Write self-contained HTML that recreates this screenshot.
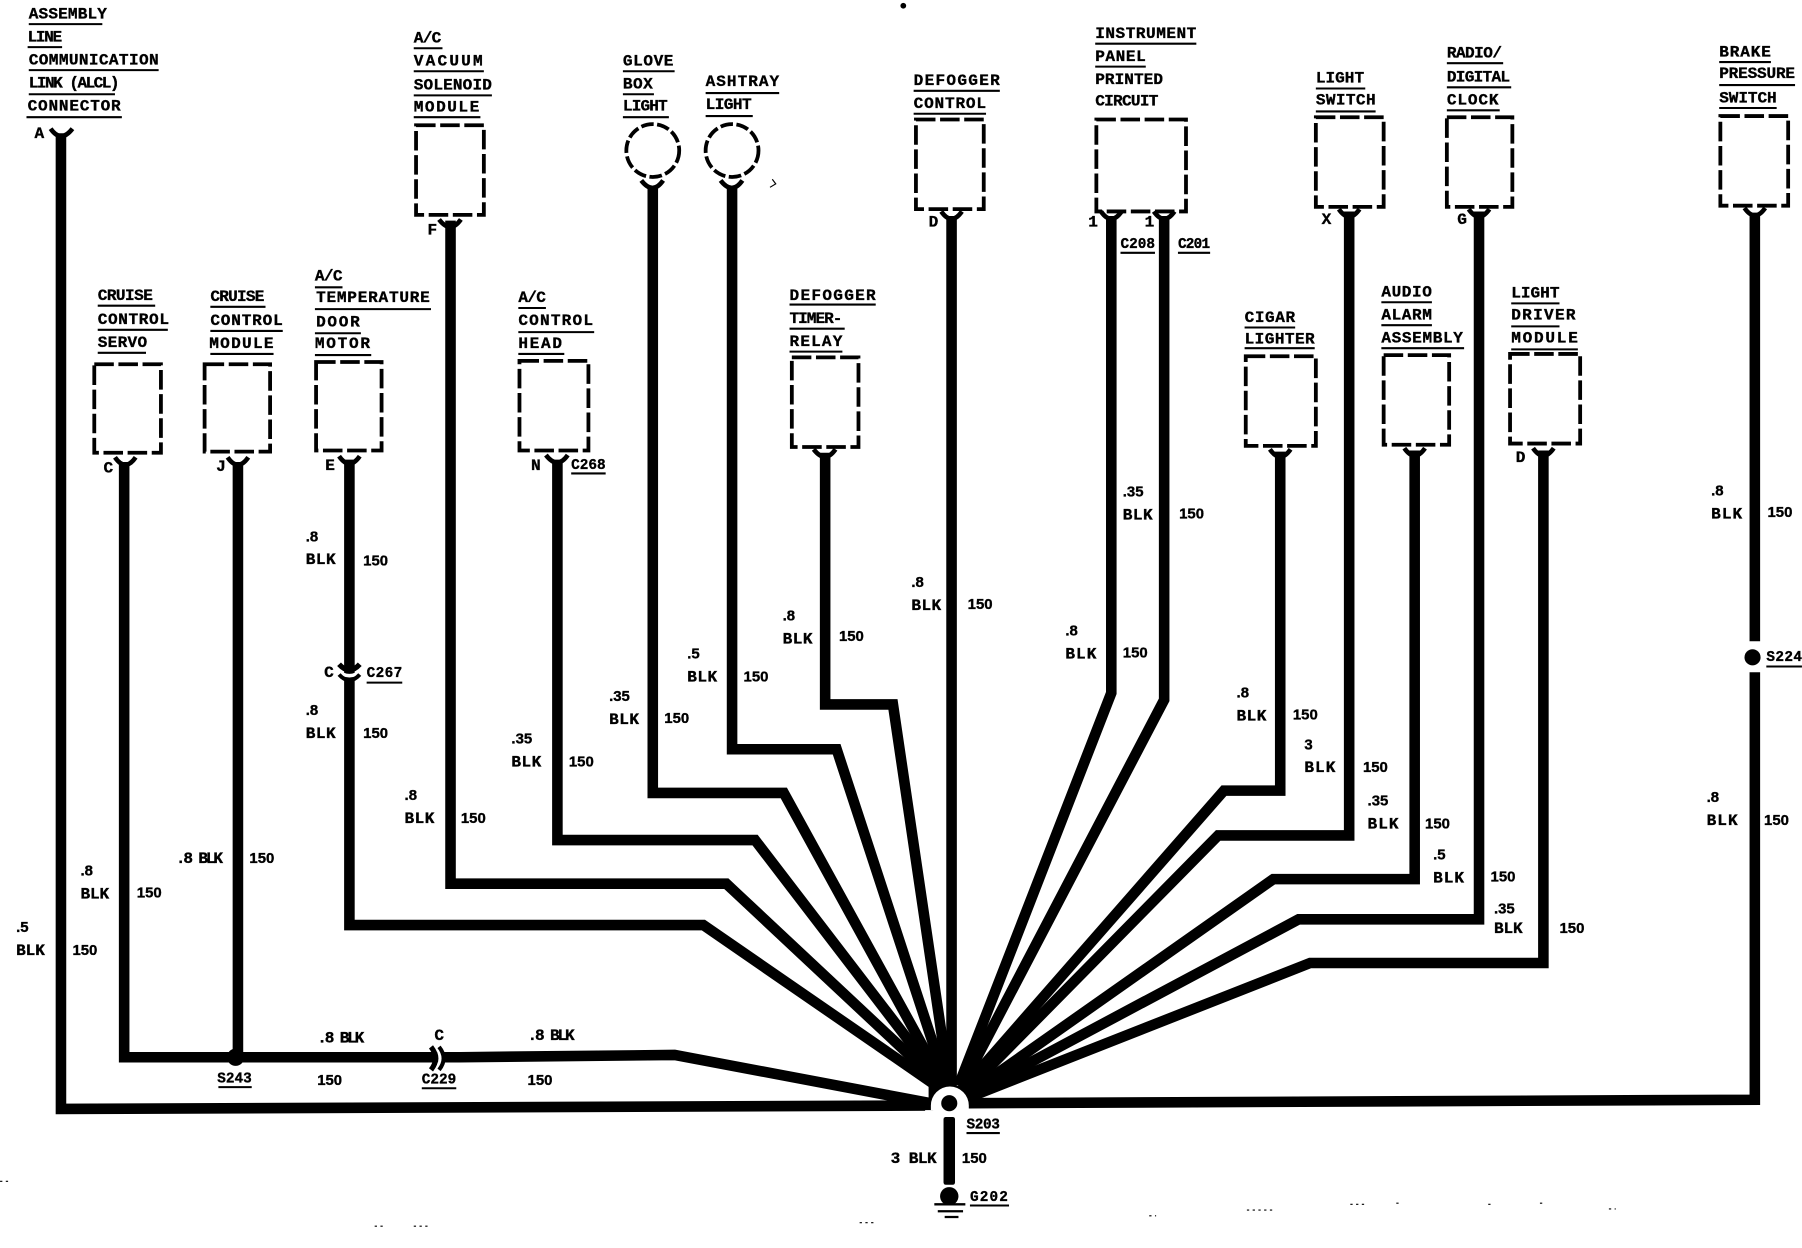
<!DOCTYPE html>
<html>
<head>
<meta charset="utf-8">
<style>
html,body{margin:0;padding:0;background:#fff;}
svg{display:block;}
text{font-family:"Liberation Mono",monospace;font-weight:bold;font-size:14px;fill:#000;stroke:#000;stroke-width:.3px;transform:translateY(-1px);}
text.n{font-family:"Liberation Sans",sans-serif;font-size:13px;}
text.c{font-size:12.5px;}
</style>
</head>
<body>
<svg width="1802" height="1248" viewBox="0 0 1568 1086" xmlns="http://www.w3.org/2000/svg">
<rect width="1568" height="1086" fill="#fff"/>

<!-- wires -->
<g fill="none" stroke="#000" stroke-width="9.2" stroke-linejoin="miter">
<path d="M53 116V965L812 962"/>
<path d="M1527 185V558M1527 585V957L842 960"/>
<path d="M108 402V920H400L587 918L815 961"/>
<path d="M207 402V920"/>
<path d="M304 400V805H612L815 945"/>
<path d="M392 192V769H632L820 945"/>
<path d="M485 400V731H657L821 945"/>
<path d="M568 162V690H682L822 945"/>
<path d="M637 162V652H728L824 945"/>
<path d="M718 394V613H777L826 945"/>
<path d="M828 188V945"/>
<path d="M967 188V603L834 945"/>
<path d="M1013 188V609L837 945"/>
<path d="M1114 393V688H1065L840 945"/>
<path d="M1174 184V727H1060L842 948"/>
<path d="M1231 392V765H1108L845 950"/>
<path d="M1287 184V800H1130L845 952"/>
<path d="M1343 392V838H1140L843 955"/>
</g>

<!-- fan hub fill -->
<path d="M808 945L848 945L850 964L808 966Z" fill="#000"/>

<!-- S203 -->
<path d="M810 966V962A16 16 0 0 1 843 962V966Z" fill="#fff"/>
<rect x="805" y="966" width="45" height="8" fill="#fff"/>
<circle cx="826" cy="960" r="7"/>
<rect x="821" y="972" width="10" height="59" rx="2"/>

<!-- ground G202 -->
<circle cx="826" cy="1041" r="8"/>
<path d="M813 1048H840M816 1054H838M822 1059H834" stroke="#000" stroke-width="2" fill="none"/>

<!-- splice dots -->
<circle cx="205" cy="920" r="7.5"/>
<circle cx="1525" cy="572" r="7"/>

<!-- Connector C229 -->
<path d="M375 911Q383 921 375 931" fill="none" stroke="#000" stroke-width="4.5"/>
<path d="M379 910Q387 921 379 932" fill="none" stroke="#fff" stroke-width="3"/>
<path d="M382 911Q390 921 382 931" fill="none" stroke="#000" stroke-width="3.5"/>
<!-- Connector C267 -->
<path d="M295 578Q304 588 313 578" fill="none" stroke="#000" stroke-width="4.5"/>
<path d="M293 583Q304 593 315 583" fill="none" stroke="#fff" stroke-width="3"/>
<path d="M295 587Q304 597 313 587" fill="none" stroke="#000" stroke-width="3.5"/>

<!-- forks -->
<g fill="none" stroke="#000" stroke-width="4">
<path d="M44 112Q53 125 63 112"/>
<path d="M100 398Q109 411 118 398"/>
<path d="M198 398Q207 411 216 398"/>
<path d="M295 397Q304 410 313 397"/>
<path d="M382 191Q392 204 401 191"/>
<path d="M475 396Q485 409 494 396"/>
<path d="M558 157Q568 170 577 157"/>
<path d="M627 157Q637 170 646 157"/>
<path d="M708 391Q718 404 727 391"/>
<path d="M819 184Q828 197 837 184"/>
<path d="M958 184Q967 197 976 184"/>
<path d="M1004 184Q1013 197 1022 184"/>
<path d="M1105 391Q1114 404 1123 391"/>
<path d="M1165 182Q1174 195 1183 182"/>
<path d="M1222 390Q1231 403 1240 390"/>
<path d="M1278 182Q1287 195 1296 182"/>
<path d="M1334 390Q1343 403 1352 390"/>
<path d="M1518 181Q1527 194 1536 181"/>
</g>

<!-- dashed components -->
<g fill="none" stroke="#000" stroke-width="3.3" stroke-dasharray="17 4">
<rect x="82" y="317" width="58" height="77"/>
<rect x="178" y="317" width="57" height="76"/>
<rect x="275" y="315" width="57" height="77"/>
<rect x="362" y="109" width="59" height="78"/>
<rect x="452" y="314" width="60" height="78"/>
<rect x="689" y="311" width="58" height="78"/>
<rect x="797" y="104" width="59" height="78"/>
<rect x="954" y="104" width="78" height="80"/>
<rect x="1084" y="310" width="61" height="78"/>
<rect x="1145" y="102" width="59" height="78"/>
<rect x="1204" y="309" width="57" height="78"/>
<rect x="1259" y="102" width="57" height="78"/>
<rect x="1314" y="308" width="61" height="78"/>
<rect x="1497" y="101" width="59" height="78"/>
<circle cx="568" cy="131" r="23" stroke-dasharray="11 3"/>
<circle cx="637" cy="131" r="23" stroke-dasharray="11 3"/>
</g>

<!-- heading underlines -->
<path fill="none" stroke="#000" stroke-width="1.8" d="
M25 21H89M24 41H54M25 61H138M25 82H100M23 102H106
M360 42H385M360 62H421M360 83H428M360 102H418
M85 266H135M85 287H146M85 307H127
M183 267H231M183 288H246M183 308H238
M274 250H298M274 269H375M274 290H314M274 309H323
M451 268H475M451 289H517M451 308H491
M542 62H587M542 82H569M542 102H582
M614 81H678M614 101H655
M687 265H762M687 286H735M687 306H733
M795 79H870M795 99H858
M953 38H1041M953 58H997
M1145 77H1188M1145 97H1197
M1083 285H1127M1083 303H1144
M1202 263H1246M1202 283H1246M1202 303H1274
M1259 55H1308M1259 76H1315M1259 96H1305
M1315 264H1357M1315 284H1357M1315 304H1373
M1496 54H1541M1496 74H1562M1496 94H1546
M497 412H527M975 220H1005M1025 220H1053M319 594H350M190 946H219M367 947H397M841 986H870M844 1049H878M1537 580H1568
"/>

<!-- headings -->
<text x="25" y="17" textLength="68">ASSEMBLY</text>
<text x="24" y="37" textLength="30">LINE</text>
<text x="25" y="57" textLength="113">COMMUNICATION</text>
<text x="25" y="77" textLength="79">LINK (ALCL)</text>
<text x="24" y="97" textLength="81">CONNECTOR</text>

<text x="360" y="38" textLength="24">A/C</text>
<text x="360" y="58" textLength="60">VACUUM</text>
<text x="360" y="79" textLength="68">SOLENOID</text>
<text x="360" y="98" textLength="57">MODULE</text>

<text x="85" y="262" textLength="48">CRUISE</text>
<text x="85" y="283" textLength="62">CONTROL</text>
<text x="85" y="303" textLength="43">SERVO</text>

<text x="183" y="263" textLength="47">CRUISE</text>
<text x="183" y="284" textLength="63">CONTROL</text>
<text x="182" y="304" textLength="56">MODULE</text>

<text x="274" y="245" textLength="24">A/C</text>
<text x="275" y="264" textLength="99">TEMPERATURE</text>
<text x="275" y="285" textLength="38">DOOR</text>
<text x="274" y="304" textLength="48">MOTOR</text>

<text x="451" y="264" textLength="24">A/C</text>
<text x="451" y="284" textLength="65">CONTROL</text>
<text x="451" y="304" textLength="38">HEAD</text>

<text x="542" y="58" textLength="44">GLOVE</text>
<text x="542" y="78" textLength="26">BOX</text>
<text x="542" y="97" textLength="39">LIGHT</text>

<text x="614" y="76" textLength="64">ASHTRAY</text>
<text x="614" y="96" textLength="40">LIGHT</text>

<text x="687" y="262" textLength="75">DEFOGGER</text>
<text x="687" y="282" textLength="46">TIMER-</text>
<text x="687" y="302" textLength="46">RELAY</text>

<text x="795" y="75" textLength="75">DEFOGGER</text>
<text x="795" y="95" textLength="63">CONTROL</text>

<text x="953" y="34" textLength="88">INSTRUMENT</text>
<text x="953" y="54" textLength="44">PANEL</text>
<text x="953" y="74" textLength="59">PRINTED</text>
<text x="953" y="93" textLength="55">CIRCUIT</text>

<text x="1145" y="73" textLength="42">LIGHT</text>
<text x="1145" y="92" textLength="52">SWITCH</text>

<text x="1083" y="281" textLength="44">CIGAR</text>
<text x="1083" y="300" textLength="61">LIGHTER</text>

<text x="1202" y="259" textLength="44">AUDIO</text>
<text x="1202" y="279" textLength="44">ALARM</text>
<text x="1202" y="299" textLength="71">ASSEMBLY</text>

<text x="1259" y="51" textLength="48">RADIO/</text>
<text x="1259" y="72" textLength="55">DIGITAL</text>
<text x="1259" y="92" textLength="45">CLOCK</text>

<text x="1315" y="260" textLength="42">LIGHT</text>
<text x="1315" y="279" textLength="56">DRIVER</text>
<text x="1315" y="299" textLength="58">MODULE</text>

<text x="1496" y="50" textLength="45">BRAKE</text>
<text x="1496" y="69" textLength="66">PRESSURE</text>
<text x="1496" y="90" textLength="50">SWITCH</text>

<!-- pin letters -->
<text x="30" y="121">A</text>
<text x="90" y="412">C</text>
<text x="188" y="411">J</text>
<text x="283" y="410">E</text>
<text x="372" y="205">F</text>
<text x="462" y="410">N</text>
<text x="808" y="198">D</text>
<text x="947" y="198">1</text>
<text x="996" y="198">1</text>
<text x="1150" y="196">X</text>
<text x="1268" y="196">G</text>
<text x="1319" y="403">D</text>
<text x="282" y="590">C</text>
<text x="378" y="906">C</text>

<!-- connector ids -->
<text class="c" x="497" y="409" textLength="30">C268</text>
<text class="c" x="975" y="217" textLength="30">C208</text>
<text class="c" x="1025" y="217" textLength="28">C201</text>
<text class="c" x="319" y="590" textLength="31">C267</text>
<text class="c" x="1537" y="576" textLength="31">S224</text>
<text class="c" x="189" y="943" textLength="30">S243</text>
<text class="c" x="367" y="944" textLength="30">C229</text>
<text class="c" x="841" y="983" textLength="29">S203</text>
<text class="c" x="844" y="1046" textLength="33">G202</text>

<!-- wire labels -->
<text class="n" x="14" y="812">.5</text><text x="14" y="832" textLength="25">BLK</text><text class="n" x="63" y="832">150</text>
<text class="n" x="70" y="763">.8</text><text x="70" y="783" textLength="25">BLK</text><text class="n" x="119" y="782">150</text>
<text x="153" y="752" textLength="41">.8 BLK</text><text class="n" x="217" y="752">150</text>
<text class="n" x="266" y="472">.8</text><text x="266" y="492" textLength="26">BLK</text><text class="n" x="316" y="493">150</text>
<text class="n" x="266" y="623">.8</text><text x="266" y="643" textLength="26">BLK</text><text class="n" x="316" y="643">150</text>
<text class="n" x="352" y="697">.8</text><text x="352" y="717" textLength="26">BLK</text><text class="n" x="401" y="717">150</text>
<text class="n" x="445" y="648">.35</text><text x="445" y="668" textLength="26">BLK</text><text class="n" x="495" y="668">150</text>
<text class="n" x="530" y="611">.35</text><text x="530" y="631" textLength="26">BLK</text><text class="n" x="578" y="630">150</text>
<text class="n" x="598" y="574">.5</text><text x="598" y="594" textLength="26">BLK</text><text class="n" x="647" y="594">150</text>
<text class="n" x="681" y="541">.8</text><text x="681" y="561" textLength="26">BLK</text><text class="n" x="730" y="559">150</text>
<text class="n" x="793" y="512">.8</text><text x="793" y="532" textLength="26">BLK</text><text class="n" x="842" y="531">150</text>
<text class="n" x="927" y="554">.8</text><text x="927" y="574" textLength="27">BLK</text><text class="n" x="977" y="573">150</text>
<text class="n" x="977" y="433">.35</text><text x="977" y="453" textLength="26">BLK</text><text class="n" x="1026" y="452">150</text>
<text class="n" x="1076" y="608">.8</text><text x="1076" y="628" textLength="26">BLK</text><text class="n" x="1125" y="627">150</text>
<text class="n" x="1135" y="653">3</text><text x="1135" y="673" textLength="27">BLK</text><text class="n" x="1186" y="673">150</text>
<text class="n" x="1190" y="702">.35</text><text x="1190" y="722" textLength="27">BLK</text><text class="n" x="1240" y="722">150</text>
<text class="n" x="1247" y="749">.5</text><text x="1247" y="769" textLength="27">BLK</text><text class="n" x="1297" y="768">150</text>
<text class="n" x="1300" y="796">.35</text><text x="1300" y="813" textLength="25">BLK</text><text class="n" x="1357" y="813">150</text>
<text class="n" x="1489" y="432">.8</text><text x="1489" y="452" textLength="27">BLK</text><text class="n" x="1538" y="451">150</text>
<text class="n" x="1485" y="699">.8</text><text x="1485" y="719" textLength="27">BLK</text><text class="n" x="1535" y="719">150</text>
<text x="276" y="908" textLength="41">.8 BLK</text><text class="n" x="276" y="945">150</text>
<text x="459" y="906" textLength="41">.8 BLK</text><text class="n" x="459" y="945">150</text>
<text x="775" y="1013" textLength="40">3 BLK</text><text class="n" x="837" y="1013">150</text>

<!-- specks -->
<circle cx="786" cy="5" r="2.5"/>
<path d="M672 156l3 4-5 3" fill="none" stroke="#000" stroke-width="1"/>
<path d="M0 1028h8M326 1067h8M360 1067h14M748 1064h12M1000 1058h6M1085 1053h24M1175 1048h14M1215 1047h4M1295 1048h4M1340 1047h3M1400 1052h6" stroke="#000" stroke-width="1" stroke-dasharray="2 3" fill="none"/>
</svg>
</body>
</html>
